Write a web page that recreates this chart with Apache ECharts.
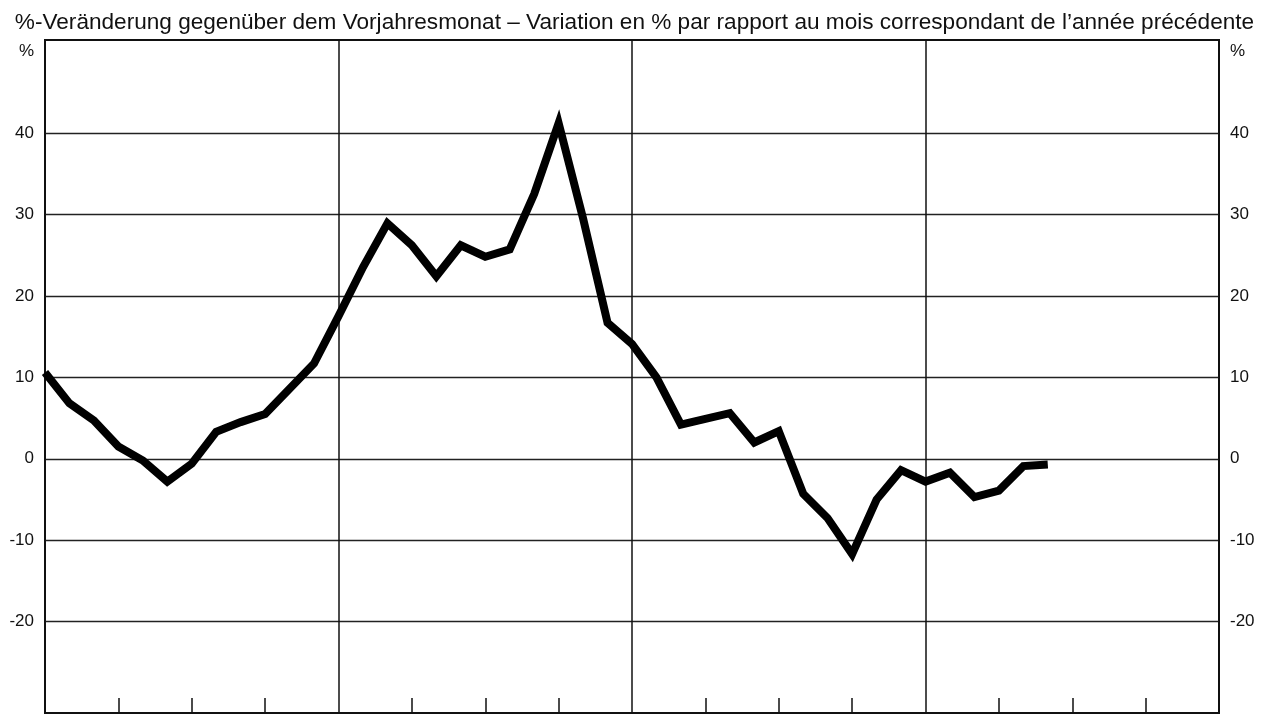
<!DOCTYPE html>
<html>
<head>
    <meta charset="UTF-8"/>
    <title>Veränderung gegenüber dem Vorjahresmonat</title>
    <script type="text/javascript" src="https://cdn.jsdelivr.net/npm/echarts@6/dist/echarts.min.js"></script>
    <style>
        html, body { margin: 0; padding: 0; background: #fff; }
    </style>
</head>
<body>

<div id="main" style="width: 1269px;height:715px;"></div>

<script type="text/javascript">
    // 4 Jahre x 12 Monate, plus Endpunkt
    var years = ['1', '2', '3', '4'];
    var months = ['01', '02', '03', '04', '05', '06', '07', '08', '09', '10', '11', '12'];
    // Veränderung in % gegenüber dem Vorjahresmonat
    var values = [10.6, 6.8, 4.7, 1.5, -0.2, -2.8, -0.6, 3.3, 4.5, 5.5, 8.6, 11.7,
                  17.5, 23.5, 28.9, 26.2, 22.4, 26.2, 24.8, 25.7, 32.5, 41.2, 29.5, 16.7,
                  14.1, 10.0, 4.2, 4.9, 5.6, 2.0, 3.4, -4.3, -7.3, -11.7, -5.0, -1.4,
                  -2.8, -1.7, -4.7, -3.9, -0.9, -0.7];
    var yTicks = [-20, -10, 0, 10, 20, 30, 40];
    var yLabels = [-20, -10, 0, 10, 20, 30, 40, 50];

    var categories = [];
    years.forEach(function (y) {
        months.forEach(function (m) { categories.push(y + '-' + m); });
    });
    categories.push('5-01');

    var myChart = echarts.init(document.getElementById('main'));

    var yAxisBase = {
        type: 'value',
        min: -31.2,
        max: 51.4,
        axisLine: {show: false},
        axisTick: {show: false, customValues: yTicks},
        axisLabel: {
            customValues: yLabels,
            color: '#111',
            fontFamily: 'Liberation Sans',
            fontSize: 17,
            margin: 11,
            formatter: function (v) { return v === 50 ? '%' : String(v); }
        }
    };

    option = {
        animation: false,
        title: {
            text: '%-Veränderung gegenüber dem Vorjahresmonat – Variation en % par rapport au mois correspondant de l’année précédente',
            left: 'center',
            top: 6,
            textStyle: {
                fontFamily: 'Liberation Sans',
                fontWeight: 'normal',
                fontSize: 22.6,
                color: '#111'
            }
        },
        grid: {
            show: true,
            left: 45,
            right: 50,
            top: 40,
            bottom: 2,
            borderColor: '#111',
            borderWidth: 2
        },
        xAxis: {
            type: 'category',
            data: categories,
            boundaryGap: false,
            position: 'bottom',
            axisLine: {show: false, onZero: false},
            axisLabel: {show: false},
            axisTick: {
                show: true,
                inside: true,
                length: 15,
                interval: function (idx) { return idx % 3 === 0 && idx % 12 !== 0; },
                lineStyle: {color: '#111', width: 1.5}
            },
            splitLine: {
                show: true,
                interval: function (idx) { return idx % 12 === 0; },
                lineStyle: {color: '#111', width: 1.5}
            }
        },
        yAxis: [
            echarts.util.merge({
                position: 'left',
                splitLine: {show: true, lineStyle: {color: '#222', width: 1.3}}
            }, yAxisBase, false),
            echarts.util.merge({
                position: 'right',
                splitLine: {show: false}
            }, yAxisBase, false)
        ],
        series: [{
            type: 'line',
            data: values,
            yAxisIndex: 0,
            symbol: 'none',
            lineStyle: {color: '#000', width: 8, join: 'miter'}
        }]
    };
    myChart.setOption(option);
</script>
</body>
</html>
